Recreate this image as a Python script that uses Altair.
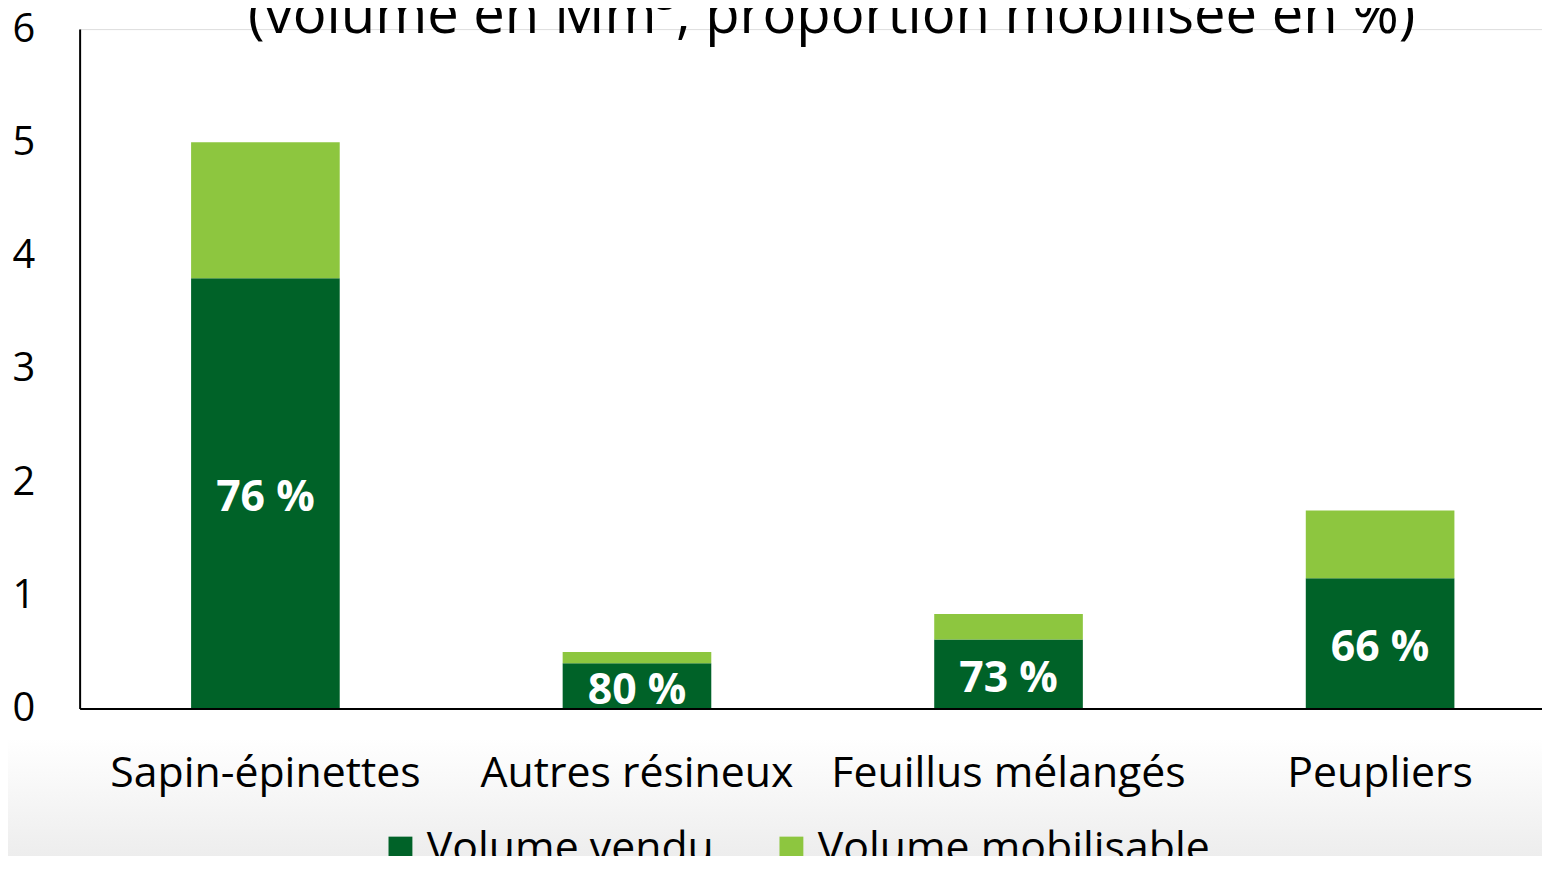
import altair as alt
import pandas as pd

essences = ["Sapin-épinettes", "Autres résineux", "Feuillus mélangés", "Peupliers"]
volume_total = [5.0, 0.5, 0.835, 1.75]
volume_vendu = [3.8, 0.4, 0.61, 1.15]
proportion = ["76 %", "80 %", "73 %", "66 %"]
series = ["Volume vendu", "Volume mobilisable"]
colors = ["#006228", "#8dc63f"]
title_text = "(volume en Mm³, proportion mobilisée en %)"

rows = []
for e, t, v in zip(essences, volume_total, volume_vendu):
    rows.append({"essence": e, "serie": series[0], "valeur": v, "ord": 0})
    rows.append({"essence": e, "serie": series[1], "valeur": round(t - v, 4), "ord": 1})
df = pd.DataFrame(rows)

lab = pd.DataFrame({"essence": essences, "vendu": volume_vendu, "pct": proportion})
lab["mid"] = lab["vendu"] / 2

FONT = "Open Sans"

x_enc = alt.X(
    "essence:N",
    sort=essences,
    scale=alt.Scale(range=[0, 1494], paddingInner=0.6, paddingOuter=0.3),
    axis=alt.Axis(
        title=None, labelAngle=0, labelFontSize=43, labelFont=FONT, labelColor="#000",
        ticks=False, labelPadding=44, domainColor="#000", domainWidth=2, zindex=1,
        labelLimit=0,
    ),
)

y_scale = alt.Scale(domain=[0, 6], nice=False)

bg = alt.Chart(pd.DataFrame({"a": [0]})).mark_rect(
    fill=alt.LinearGradient(
        gradient="linear",
        stops=[alt.GradientStop(offset=0, color="#ffffff"),
               alt.GradientStop(offset=1, color="#ebebeb")],
        x1=0, x2=0, y1=0, y2=1,
    ),
    clip=False,
).encode(
    x=alt.value(-72), x2=alt.value(1480), y=alt.value(713), y2=alt.value(845)
)

bars = alt.Chart(df).mark_bar().encode(
    x=x_enc,
    y=alt.Y(
        "valeur:Q", stack="zero", scale=y_scale,
        axis=alt.Axis(
            title=None, values=[0, 1, 2, 3, 4, 5, 6], format="d", labelFontSize=40,
            labelFont=FONT, labelColor="#000", ticks=False, grid=False, labelPadding=45,
            domainColor="#000", domainWidth=2, zindex=1,
        ),
    ),
    color=alt.Color(
        "serie:N",
        scale=alt.Scale(domain=series, range=colors),
        legend=alt.Legend(
            title=None, orient="none", direction="horizontal", legendX=301, legendY=802,
            symbolType="square", symbolSize=576, symbolStrokeWidth=0,
            labelFontSize=43, labelFont=FONT, labelColor="#000", labelOffset=5,
            columnPadding=56, labelLimit=0, zindex=1,
        ),
    ),
    order=alt.Order("ord:Q"),
)

labels = alt.Chart(lab).mark_text(
    color="white", fontWeight="bold", fontSize=43, font=FONT, baseline="middle", dy=5
).encode(
    x=alt.X("essence:N", sort=essences),
    y=alt.Y("mid:Q", scale=y_scale),
    text="pct:N",
)

title = alt.Chart(pd.DataFrame({"t": [title_text]})).mark_text(
    fontSize=56.5, font=FONT, color="#000", align="center", baseline="alphabetic", clip=False
).encode(x=alt.value(756), y=alt.value(4), text="t:N")

chart = alt.layer(bg, bars, labels, title).properties(
    width=1470, height=683,
    autosize=alt.AutoSizeParams(type="none"),
    padding={"left": 72, "top": 19, "right": 0, "bottom": 146},
).configure_view(stroke=None).configure(background="white")

chart.save("out.html", embed_options={"renderer": "svg", "actions": False})
